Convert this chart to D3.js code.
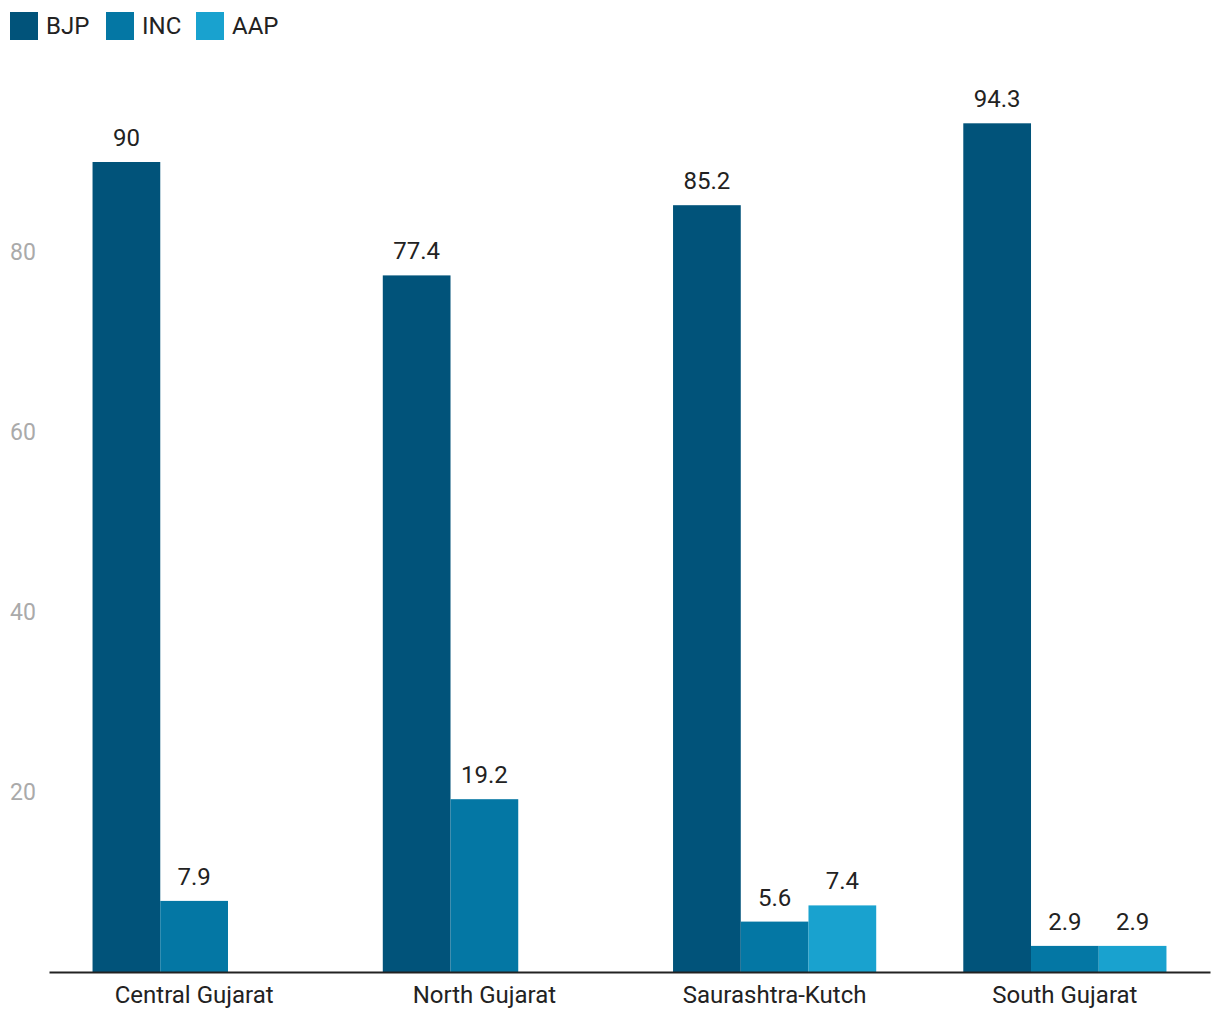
<!DOCTYPE html>
<html><head><meta charset="utf-8">
<script src="https://cdn.jsdelivr.net/npm/d3@7"></script>
<style>body{margin:0;background:#fff;font-family:Roboto,"Noto Sans",sans-serif;}</style>
</head><body>
<svg id="chart" width="1220" height="1020"></svg>
<script>
const regions = ["Central Gujarat", "North Gujarat", "Saurashtra-Kutch", "South Gujarat"];
const parties = ["BJP", "INC", "AAP"];
const bjp = [90, 77.4, 85.2, 94.3];
const inc = [7.9, 19.2, 5.6, 2.9];
const aap = [null, null, 7.4, 2.9];
const yTicks = [20, 40, 60, 80];
const colors = ["#01537a", "#0477a4", "#19a2cf"];

const seriesValues = [bjp, inc, aap];
const svg = d3.select("#chart");
const font = "Roboto, 'Noto Sans', sans-serif";

const y = d3.scaleLinear().domain([0, 100]).range([972, 72]);
const x0 = d3.scaleBand().domain(regions).range([49, 1210]).paddingInner(0.3).paddingOuter(0.15);
const x1 = d3.scaleBand().domain(parties).range([0, x0.bandwidth()]);
const color = d3.scaleOrdinal().domain(parties).range(colors);

// y tick labels
svg.append("g").selectAll("text").data(yTicks).join("text")
  .attr("x", 10).attr("y", d => y(d)).attr("dy", "0.35em")
  .attr("font-family", font).attr("font-size", 23).attr("fill", "#aaaaaa")
  .text(d => d);

const data = regions.map((r, i) => ({region: r, vals: parties.map((p, j) => ({party: p, value: seriesValues[j][i]}))}));

const groups = svg.append("g").selectAll("g").data(data).join("g")
  .attr("transform", d => `translate(${x0(d.region)},0)`);

groups.selectAll("rect").data(d => d.vals.filter(v => v.value != null)).join("rect")
  .attr("x", d => x1(d.party)).attr("width", x1.bandwidth())
  .attr("y", d => y(d.value)).attr("height", d => y(0) - y(d.value))
  .attr("fill", d => color(d.party));

groups.selectAll("text").data(d => d.vals.filter(v => v.value != null)).join("text")
  .attr("x", d => x1(d.party) + x1.bandwidth() / 2).attr("y", d => y(d.value) - 16)
  .attr("text-anchor", "middle").attr("font-family", font).attr("font-size", 24).attr("fill", "#222")
  .text(d => d.value);

// x axis
const xAxis = svg.append("g").attr("transform", `translate(0,${y(0)})`)
  .call(d3.axisBottom(x0).tickSize(0).tickPadding(14));
xAxis.select(".domain").attr("stroke", "#222").attr("stroke-width", 2);
xAxis.selectAll("text").attr("font-family", font).attr("font-size", 24).attr("fill", "#222");

// legend
const legend = svg.append("g").selectAll("g").data(parties).join("g")
  .attr("transform", (d, i) => `translate(${[10, 106, 196][i]},12)`);
legend.append("rect").attr("width", 28).attr("height", 28).attr("fill", d => color(d));
legend.append("text").attr("x", 36).attr("y", 14).attr("dy", "0.35em")
  .attr("font-family", font).attr("font-size", 24).attr("fill", "#222").text(d => d);
</script>
</body></html>
